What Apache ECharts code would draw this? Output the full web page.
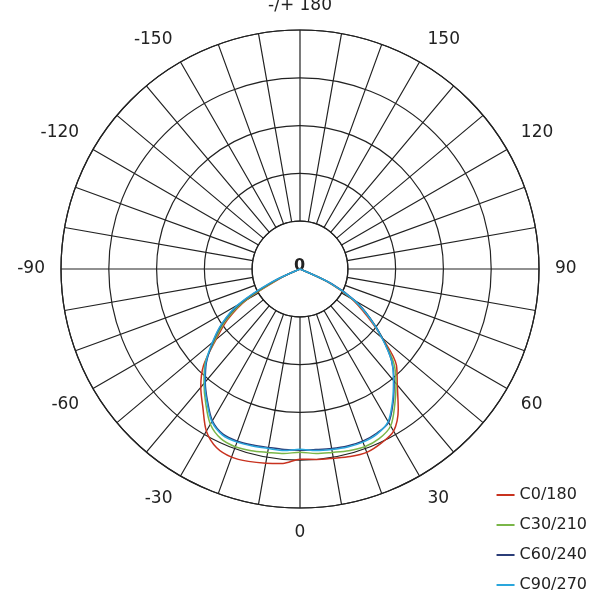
<!DOCTYPE html>
<html><head><meta charset="utf-8">
<script src="https://cdn.jsdelivr.net/npm/echarts@6/dist/echarts.min.js"></script>
<style>html,body{margin:0;background:#fff}#c{width:600px;height:600px}</style></head>
<body><div id="c"></div>
<script>
const angles = [-70,-65,-60,-55,-50,-45,-40,-35,-30,-25,-20,-15,-10,-5,0,5,10,15,20,25,30,35,40,45,50,55,60,65,70];
const c0 = [0,20,62,89,110,137,155,170,188,198,201,200,198,196,191,192,193,195,196,193,188,172,152,137,108,82,60,30,0];
const c30 = [0,25,65,92,112,135,150,165,180,188,190,189,187,186,184,186,187,189,190,188,182,166,150,133,108,85,62,32,0];
const c60 = [0,30,70,95,114,133,148,162,176,183,184,183,182,182,182,182,183,184,184,182,178,163,147,130,108,86,64,35,0];
const c90 = [0,32,72,96,115,134,149,163,177,184,185,184,183,183,181,183,184,185,185,183,177,162,146,130,107,85,63,34,0];
const names = ['C0/180','C30/210','C60/240','C90/270'];
const colors = ['#c8321f','#7ab648','#2b3d78','#2aa6dc'];
const toData = v => v.map((r,i)=>[r, (angles[i]+360)%360]);
const lineC = '#222';
const chart = echarts.init(document.getElementById('c'));
chart.setOption({
  animation:false,
  polar:[{center:[300,269],radius:[48,239]},{center:[300,269],radius:239}],
  angleAxis:[
    {polarIndex:0,type:'value',min:0,max:360,interval:10,startAngle:270,clockwise:false,
     axisLine:{show:true,lineStyle:{color:lineC,width:1.2}},axisTick:{show:false},
     splitLine:{show:true,lineStyle:{color:lineC,width:1.2}},
     axisLabel:{margin:16,fontSize:17,color:'#222',fontFamily:'DejaVu Sans',
       formatter:v=>{ if(v%30!==0||v===360) return ''; if(v===180) return '-/+ 180'; return v>180? String(v-360): String(v);}}},
    {polarIndex:1,type:'value',min:0,max:360,startAngle:270,clockwise:false,show:false}
  ],
  radiusAxis:[
    {polarIndex:0,type:'value',min:48,max:240,show:false},
    {polarIndex:1,type:'value',min:0,max:240,interval:48,axisLine:{show:false},axisTick:{show:false},axisLabel:{show:false},
     splitLine:{show:true,lineStyle:{color:lineC,width:1.2}}}
  ],
  legend:{orient:'vertical',right:8,bottom:2,itemGap:14,itemWidth:18,itemHeight:2,icon:'rect',
    textStyle:{fontSize:16,color:'#222',fontFamily:'DejaVu Sans'},data:names},
  graphic:[{type:'text',left:294,top:258,style:{text:'0',fontSize:16,fontWeight:'bold',fill:'#222',fontFamily:'DejaVu Sans'}}],
  series:[c0,c30,c60,c90].map((v,i)=>({name:names[i],type:'line',coordinateSystem:'polar',polarIndex:1,
    data:toData(v),smooth:0.3,showSymbol:false,lineStyle:{color:colors[i],width:1.5},itemStyle:{color:colors[i]}}))
});
</script></body></html>
